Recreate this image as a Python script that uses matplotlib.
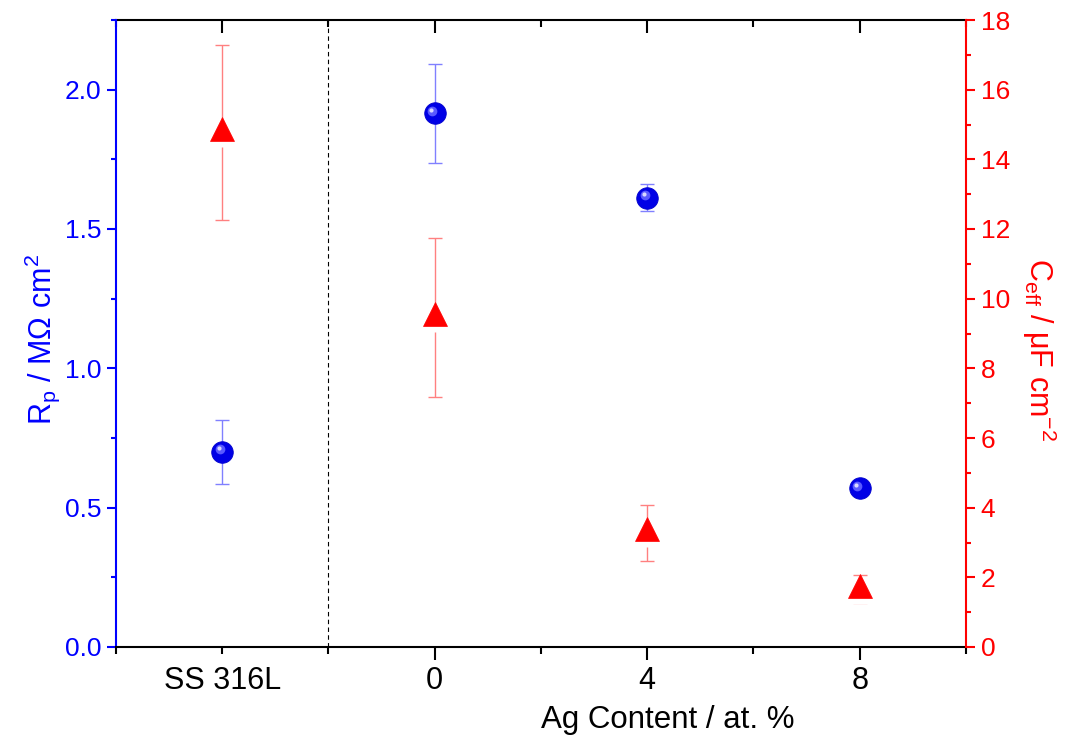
import numpy as np
import matplotlib
matplotlib.use('Agg')
import matplotlib.pyplot as plt
import matplotlib.transforms as mtransforms
from matplotlib.ticker import MultipleLocator

plt.rcParams['font.family'] = ['Liberation Sans', 'DejaVu Sans']
plt.rcParams['mathtext.fontset'] = 'custom'
plt.rcParams['mathtext.rm'] = 'Liberation Sans'
plt.rcParams['mathtext.it'] = 'Liberation Sans'

# x positions: SS 316L reference sits at -4, the Ag contents at their at.% value
x_pos = [-4, 0, 4, 8]
x_labels = ['SS 316L', '0', '4', '8']

# Rp / MOhm cm2 (left axis)
rp = [0.700, 1.915, 1.612, 0.569]
rp_err = [0.114, 0.178, 0.049, 0.02]

# Ceff / uF cm-2 (right axis)
ceff = [14.77, 9.46, 3.28, 1.66]
ceff_err = [2.50, 2.29, 0.80, 0.41]

blue = '#0000ff'
red = '#ff0000'

fig = plt.figure(figsize=(10.71, 7.52), dpi=100)
ax = fig.add_axes([116/1071, 1-647/752, 850/1071, 627/752])
ax2 = ax.twinx()

ax.set_xlim(-6, 10)
ax.set_ylim(0, 2.25)
ax2.set_ylim(0, 18)

ax.axvline(-2, color='k', lw=0.8, ls=(0, (4, 3)), zorder=1)

# Rp points: error bars + shaded "sphere" markers
ax.errorbar(x_pos, rp, yerr=rp_err, fmt='none', ecolor='#8080ff', elinewidth=1.0,
            capsize=4.7, capthick=1.0, zorder=2)
ax.plot(x_pos, rp, 'o', ms=15.5, mfc='#0000e6', mec='#0000cc', mew=0.6, ls='none', zorder=3)
hl1 = mtransforms.offset_copy(ax.transData, fig=fig, x=-1.8, y=1.8, units='points')
ax.plot(x_pos, rp, 'o', ms=7, mfc='#5a5aff', mec='none', ls='none', zorder=4, transform=hl1)
hl2 = mtransforms.offset_copy(ax.transData, fig=fig, x=-2.6, y=2.6, units='points')
ax.plot(x_pos, rp, 'o', ms=3, mfc='#d8d8ff', mec='none', ls='none', zorder=5, transform=hl2)

# Ceff points: error bars + triangles (centroid on the value)
ax2.errorbar(x_pos, ceff, yerr=ceff_err, fmt='none', ecolor='#ff8080', elinewidth=1.0,
             capsize=4.7, capthick=1.0, zorder=2)
under = mtransforms.offset_copy(ax2.transData, fig=fig, x=0, y=0.3, units='points')
ax2.plot(x_pos, ceff, '^', ms=21, mfc='white', mec='none', ls='none', zorder=3, transform=under)
tri = mtransforms.offset_copy(ax2.transData, fig=fig, x=0, y=2.5, units='points')
ax2.plot(x_pos, ceff, '^', ms=17, mfc=red, mec=red, mew=0.5, ls='none', zorder=4, transform=tri)

# x axis
ax.set_xticks(x_pos)
ax.set_xticklabels(x_labels, fontsize=22)
ax.set_xticks([-6, -2, 2, 6, 10], minor=True)
ax.tick_params(axis='x', which='major', direction='out', length=9.5, width=1.5, pad=4)
ax.tick_params(axis='x', which='minor', direction='out', length=5, width=1.5)
ax.xaxis.get_major_ticks()[0].tick1line.set_markersize(5)
ax.set_xlabel('Ag Content / at. %', fontsize=22.5)
ax.xaxis.set_label_coords(0.649, -0.092)

top = ax.secondary_xaxis('top')
top.set_xticks(x_pos)
top.set_xticks([-6, -2, 2, 6, 10], minor=True)
top.set_xticklabels([])
top.tick_params(axis='x', which='major', direction='in', length=9.5, width=1.5)
top.tick_params(axis='x', which='minor', direction='in', length=5, width=1.5)
top.spines['top'].set_linewidth(1.5)

# left axis
ax.yaxis.set_major_locator(MultipleLocator(0.5))
ax.yaxis.set_minor_locator(MultipleLocator(0.25))
ax.yaxis.set_major_formatter(matplotlib.ticker.FormatStrFormatter('%.1f'))
ax.tick_params(axis='y', which='major', direction='out', length=6.5, width=1.5,
               colors=blue, labelsize=19, pad=4)
ax.tick_params(axis='y', which='minor', direction='out', length=3.5, width=1.5, colors=blue)
ax.set_ylabel(r'R$_\mathrm{p}$ / M$\Omega$ cm$^2$', color=blue, fontsize=22)
ax.yaxis.set_label_coords(-0.064, 0.49)

# right axis
ax2.yaxis.set_major_locator(MultipleLocator(2))
ax2.yaxis.set_minor_locator(MultipleLocator(1))
ax2.tick_params(axis='y', which='major', direction='out', length=6.5, width=1.5,
                colors=red, labelsize=19, pad=4)
ax2.tick_params(axis='y', which='minor', direction='out', length=3.5, width=1.5, colors=red)
ax2.set_ylabel(r'C$_\mathrm{eff}$ / $\mu$F cm$^{-2}$', color=red, fontsize=22,
               rotation=-90)
ax2.yaxis.set_label_coords(1.108, 0.475)

for a in (ax, ax2):
    for s in a.spines.values():
        s.set_linewidth(1.5)
ax.spines['left'].set_color(blue)
ax2.spines['left'].set_visible(False)
ax2.spines['right'].set_color(red)
ax.spines['right'].set_visible(False)
ax.spines['top'].set_visible(False)
ax2.spines['top'].set_visible(False)
ax2.spines['bottom'].set_visible(False)

fig.savefig('out.png', dpi=100)
